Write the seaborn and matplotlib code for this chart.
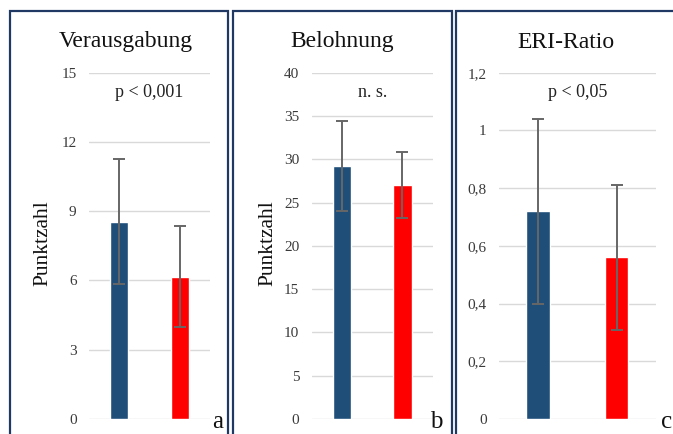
import matplotlib
matplotlib.use("Agg")
import matplotlib.pyplot as plt
from matplotlib.patches import Rectangle
import seaborn as sns
import pandas as pd

# ---- data ----
groups = ["Gruppe 1", "Gruppe 2"]
titles = ["Verausgabung", "Belohnung", "ERI-Ratio"]
p_texts = ["p < 0,001", "n. s.", "p < 0,05"]
letters = ["a", "b", "c"]

verausgabung_mean = [8.55, 6.17]
verausgabung_sd = [2.7, 2.2]
belohnung_mean = [29.2, 27.0]
belohnung_sd = [5.2, 3.8]
eri_mean = [0.72, 0.56]
eri_sd = [0.32, 0.25]

ticks_a = [0, 3, 6, 9, 12, 15]
ticks_b = [0, 5, 10, 15, 20, 25, 30, 35, 40]
ticks_c = [0, 0.2, 0.4, 0.6, 0.8, 1.0, 1.2]
ticklabels_c = ["0", "0,2", "0,4", "0,6", "0,8", "1", "1,2"]

bar_colors = ["#1F4E79", "#FF0000"]

sns.set_theme(style="white")
plt.rcParams["font.family"] = ["Liberation Serif", "DejaVu Serif"]

W, H = 673, 434
fig = plt.figure(figsize=(W / 100, H / 100), dpi=100)
fig.patch.set_facecolor("white")

def fx(px):
    return px / W

def fy(py):
    return 1 - py / H

# axes geometry in pixels: (left, right)
axes_px = [(89, 210), (311.7, 432.7), (499, 655.7)]
top_px, bottom_px = 72.7, 419
boxes_px = [(10, 228), (233, 452), (456, 690)]
title_x = [126, 342.5, 565.5]
ylabel_x = [43, 267.5, None]
letter_x = [218, 436.5, 666.5]

means = [verausgabung_mean, belohnung_mean, eri_mean]
sds = [verausgabung_sd, belohnung_sd, eri_sd]
ticks = [ticks_a, ticks_b, ticks_c]
ticklabels = [[str(t) for t in ticks_a], [str(t) for t in ticks_b], ticklabels_c]

for i in range(3):
    l, r = axes_px[i]
    ax = fig.add_axes([fx(l), fy(bottom_px), fx(r - l), (bottom_px - top_px) / H])
    df = pd.DataFrame({"Gruppe": groups, "Wert": means[i]})
    sns.barplot(data=df, x="Gruppe", y="Wert", hue="Gruppe", palette=bar_colors,
                width=0.3, legend=False, ax=ax, saturation=1, errorbar=None)
    ax.errorbar(x=[0, 1], y=means[i], yerr=sds[i], fmt="none", ecolor="#666666",
                elinewidth=1.4, capsize=4.3, capthick=1.4, zorder=5)
    ax.set_xlim(-0.5, 1.5)
    ax.set_ylim(ticks[i][0], ticks[i][-1])
    ax.set_yticks(ticks[i])
    ax.set_yticklabels(ticklabels[i], fontsize=11, color="#3A3A3A")
    ax.tick_params(axis="y", length=0, pad=9)
    ax.set_xticks([])
    ax.set_xlabel("")
    ax.set_ylabel("")
    for s in ax.spines.values():
        s.set_visible(False)
    ax.yaxis.grid(True, color="#D9D9D9", linewidth=1.0)
    ax.set_axisbelow(True)
    ax.text(0.5, (bottom_px - 97) / (bottom_px - top_px), p_texts[i],
            transform=ax.transAxes, ha="center", va="baseline", fontsize=13, color="#222222")

    # title
    fig.text(fx(title_x[i]), fy(47.5), titles[i], ha="center", va="baseline",
             fontsize=17, color="#111111")
    if ylabel_x[i] is not None:
        fig.text(fx(ylabel_x[i]), fy(243), "Punktzahl", rotation=90, ha="center",
                 va="center", fontsize=15.5, color="#111111")
    fig.text(fx(letter_x[i]), fy(428), letters[i], ha="center", va="baseline",
             fontsize=18, color="#111111")

    bl, br = boxes_px[i]
    rect = Rectangle((fx(bl), fy(460)), fx(br - bl), (460 - 11) / H,
                     transform=fig.transFigure, fill=False, edgecolor="#1F3864",
                     linewidth=1.6, clip_on=False)
    fig.patches.append(rect)

fig.savefig("out.png", dpi=100, facecolor="white")
